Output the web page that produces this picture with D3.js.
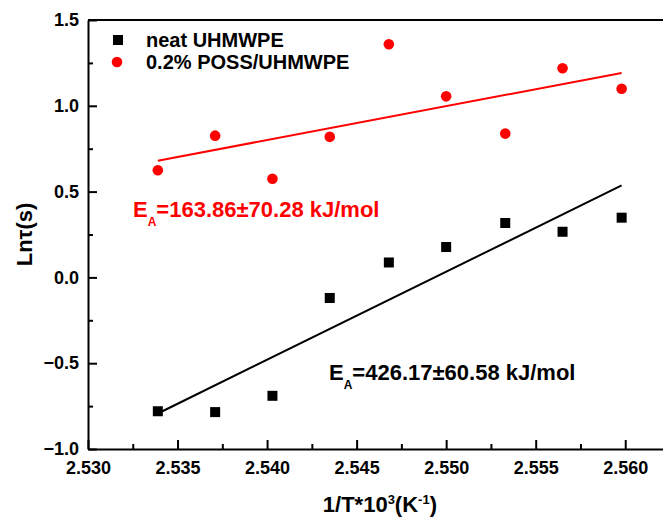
<!DOCTYPE html>
<html>
<head>
<meta charset="utf-8">
<script src="https://cdn.jsdelivr.net/npm/d3@7"></script>
<style>
  body { margin: 0; background: #fff; }
  text { font-family: "Liberation Sans", Arial, sans-serif; font-weight: bold; }
</style>
</head>
<body>
<div id="app"></div>
<script>
// values
const invT = [2.5339, 2.5371, 2.5403, 2.5435, 2.5468, 2.5500, 2.5533, 2.5565, 2.5598];
const neatLn = [-0.78, -0.785, -0.69, -0.12, 0.087, 0.177, 0.317, 0.266, 0.348];
const possLn = [0.624, 0.826, 0.575, 0.819, 1.359, 1.055, 0.838, 1.219, 1.099];
const seriesNames = ['neat UHMWPE', '0.2% POSS/UHMWPE'];
const eaTexts = ['=426.17\u00b160.58 kJ/mol', '=163.86\u00b170.28 kJ/mol'];
const xTicks = [2.530, 2.535, 2.540, 2.545, 2.550, 2.555, 2.560];
const xMinor = [2.5325, 2.5375, 2.5425, 2.5475, 2.5525, 2.5575];
const yTicks = [-1.0, -0.5, 0.0, 0.5, 1.0, 1.5];
const yMinor = [-0.75, -0.25, 0.25, 0.75, 1.25];

const W = 663, H = 518;
const svg = d3.select('#app').append('svg').attr('width', W).attr('height', H);

const x = d3.scaleLinear().domain([2.530, 2.5625]).range([88, 670]);
const y = d3.scaleLinear().domain([-1.0, 1.5]).range([449, 20]);

// linear least-squares fit, drawn over the data range
function fit(xs, ys) {
  const mx = d3.mean(xs), my = d3.mean(ys);
  const b = d3.sum(xs, (v, i) => (v - mx) * (ys[i] - my)) / d3.sum(xs, v => (v - mx) ** 2);
  const a = my - b * mx;
  const ends = d3.extent(xs);
  return ends.map(v => [v, a + b * v]);
}

const line = d3.line().x(d => x(d[0])).y(d => y(d[1]));

// frame (top + right sides, right one falls outside the crop)
svg.append('path')
  .attr('d', `M${x(2.530)},${y(1.5)}H${x.range()[1]}V${y(-1.0)}`)
  .attr('fill', 'none').attr('stroke', '#000').attr('stroke-width', 2);

// axes
const xAxis = svg.append('g').attr('transform', `translate(0,${y(-1.0)})`)
  .call(d3.axisBottom(x).tickValues(xTicks).tickFormat(d3.format('.3f'))
    .tickSize(-9).tickSizeOuter(0).tickPadding(12));
const xMin = svg.append('g').attr('transform', `translate(0,${y(-1.0)})`)
  .call(d3.axisBottom(x).tickValues(xMinor).tickFormat('').tickSize(-5).tickSizeOuter(0));
xMin.select('.domain').remove();

const yAxis = svg.append('g').attr('transform', `translate(${x(2.530)},0)`)
  .call(d3.axisLeft(y).tickValues(yTicks).tickFormat(d3.format('.1f'))
    .tickSize(-9).tickSizeOuter(0).tickPadding(9));
const yMin = svg.append('g').attr('transform', `translate(${x(2.530)},0)`)
  .call(d3.axisLeft(y).tickValues(yMinor).tickFormat('').tickSize(-5).tickSizeOuter(0));
yMin.select('.domain').remove();

[xAxis, yAxis, xMin, yMin].forEach(g => {
  g.selectAll('path,line').attr('stroke', '#000').attr('stroke-width', 2);
  g.selectAll('text').attr('fill', '#000').style('font-size', '18px')
    .style('font-family', '"Liberation Sans", Arial, sans-serif').style('font-weight', 'bold');
});

// axis titles
svg.append('text')
  .attr('transform', `translate(32,${y(0.25)})rotate(-90)`)
  .attr('text-anchor', 'middle').style('font-size', '22px')
  .text('Ln\u03c4(s)');

const xt = svg.append('text').attr('x', x(2.5463)).attr('y', 512)
  .attr('text-anchor', 'middle').style('font-size', '22px');
xt.append('tspan').text('1/T*10');
xt.append('tspan').attr('dy', -8).style('font-size', '13px').text('3');
xt.append('tspan').attr('dy', 8).text('(K');
xt.append('tspan').attr('dy', -8).style('font-size', '13px').text('-1');
xt.append('tspan').attr('dy', 8).text(')');

// fits
const series = [
  { name: seriesNames[0], ys: neatLn, color: '#000' },
  { name: seriesNames[1], ys: possLn, color: '#ff0000' }
];

series.forEach(s => {
  svg.append('path').datum(fit(invT, s.ys))
    .attr('d', line).attr('fill', 'none')
    .attr('stroke', s.color).attr('stroke-width', 2);
});

// points
svg.selectAll('rect.neat').data(invT.map((v, i) => [v, neatLn[i]])).enter()
  .append('rect').attr('class', 'neat')
  .attr('x', d => x(d[0]) - 5).attr('y', d => y(d[1]) - 5)
  .attr('width', 10).attr('height', 10).attr('fill', '#000');

svg.selectAll('circle.poss').data(invT.map((v, i) => [v, possLn[i]])).enter()
  .append('circle').attr('class', 'poss')
  .attr('cx', d => x(d[0])).attr('cy', d => y(d[1]))
  .attr('r', 5.3).attr('fill', '#ff0000');

// legend
const leg = svg.append('g');
leg.append('rect').attr('x', 113).attr('y', 35).attr('width', 10).attr('height', 10).attr('fill', '#000');
leg.append('text').attr('x', 146).attr('y', 47).style('font-size', '20px').text(seriesNames[0]);
leg.append('circle').attr('cx', 117).attr('cy', 62).attr('r', 5.3).attr('fill', '#ff0000');
leg.append('text').attr('x', 146).attr('y', 69).style('font-size', '20px').text(seriesNames[1]);

// activation energy labels
function eaLabel(px, py, txt, color) {
  const t = svg.append('text').attr('x', px).attr('y', py).attr('fill', color).style('font-size', '22px');
  t.append('tspan').text('E');
  t.append('tspan').attr('dy', 9).style('font-size', '12px').text('A');
  t.append('tspan').attr('dy', -9).text(txt);
}
eaLabel(133, 217, eaTexts[1], '#ff0000');
eaLabel(329, 380, eaTexts[0], '#000');
</script>
</body>
</html>
